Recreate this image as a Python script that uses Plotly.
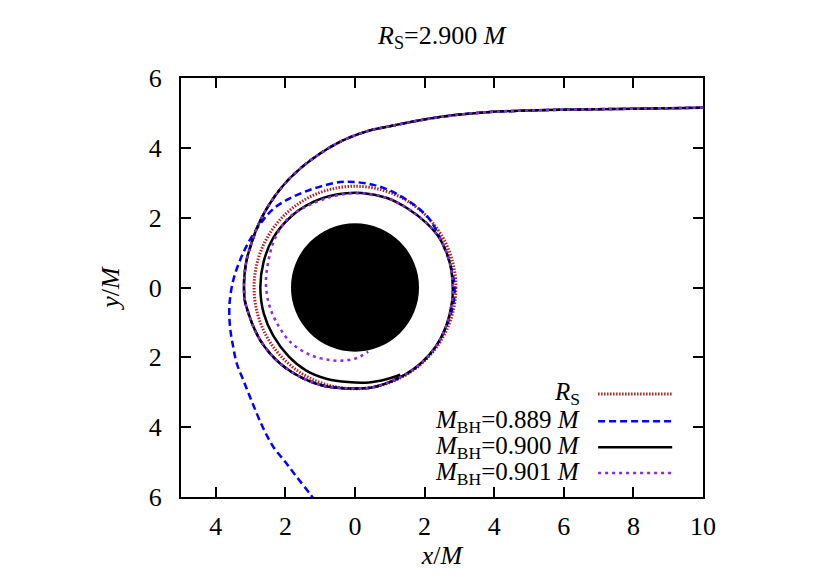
import plotly.graph_objects as go

# Schwarzschild radius and horizon disk (units of M)
r_s = 2.9
r_horizon = 1.84

# common incoming leg (units of M)
inflow_x = [10.0, 8.0, 6.5, 5.0, 3.8, 2.8, 1.87, 1.0, 0.43, -0.2, -0.53, -1.0, -1.5,
            -1.95, -2.3, -2.6, -2.82, -2.98, -3.1, -3.17, -3.19, -3.16, -3.06, -2.92,
            -2.73, -2.45, -2.16, -1.82, -1.49, -1.1, -0.72, -0.14]
inflow_y = [5.15, 5.12, 5.10, 5.07, 5.02, 4.93, 4.79, 4.62, 4.50, 4.28, 4.12, 3.84, 3.47,
            3.05, 2.62, 2.15, 1.70, 1.25, 0.85, 0.42, 0.0, -0.40, -0.74, -1.12,
            -1.50, -1.88, -2.17, -2.42, -2.60, -2.76, -2.85, -2.89]

# M_BH = 0.889 M : escapes towards the lower left
m889_x = [0.5, 1.2, 1.8, 2.3, 2.63, 2.82, 2.86, 2.78, 2.63, 2.4, 2.16, 1.85, 1.49, 1.0,
          0.53, 0.0, -0.43, -1.0, -1.5, -1.96, -2.35, -2.64, -3.0, -3.30, -3.50, -3.60,
          -3.61, -3.57, -3.50, -3.40, -3.21, -2.95, -2.65, -2.35, -2.0, -1.68, -1.3, -1.15]
m889_y = [-2.86, -2.62, -2.25, -1.72, -1.1, -0.5, 0.0, 0.5, 0.98, 1.5, 1.93, 2.25, 2.51, 2.78,
          2.94, 3.02, 3.02, 2.89, 2.72, 2.51, 2.25, 1.93, 1.40, 0.79, 0.20, -0.40,
          -0.87, -1.3, -1.7, -2.17, -2.65, -3.30, -4.0, -4.56, -5.0, -5.42, -5.9, -6.1]

# M_BH = 0.900 M : winds around near the photon orbit
m900_x = [0.5, 1.2, 1.8, 2.3, 2.62, 2.79, 2.80, 2.70, 2.45, 2.05, 1.5, 0.9, 0.2, -0.5,
          -1.2, -1.85, -2.35, -2.63, -2.72, -2.62, -2.35, -1.9, -1.4, -0.8, -0.2, 0.4,
          0.9, 1.3]
m900_y = [-2.86, -2.62, -2.25, -1.72, -1.1, -0.4, 0.2, 0.8, 1.38, 1.85, 2.27, 2.57, 2.71,
          2.67, 2.45, 2.02, 1.42, 0.72, 0.0, -0.75, -1.38, -1.98, -2.38, -2.62, -2.71,
          -2.72, -2.63, -2.50]

# M_BH = 0.901 M : spirals into the black hole
m901_x = [0.5, 1.2, 1.8, 2.3, 2.62, 2.79, 2.80, 2.70, 2.45, 2.05, 1.5, 0.9, 0.2, -0.5,
          -1.2, -1.87, -2.3, -2.5, -2.56, -2.48, -2.28, -1.87, -1.29, -0.72, -0.29,
          0.05, 0.38]
m901_y = [-2.86, -2.62, -2.25, -1.72, -1.1, -0.4, 0.2, 0.8, 1.38, 1.85, 2.27, 2.57, 2.70,
          2.64, 2.41, 2.03, 1.40, 0.70, 0.10, -0.45, -0.95, -1.55, -1.93, -2.08, -2.09,
          -2.02, -1.84]

x_ticks = [-4, -2, 0, 2, 4, 6, 8, 10]
x_tick_text = ["4", "2", "0", "2", "4", "6", "8", "10"]
y_ticks = [-6, -4, -2, 0, 2, 4, 6]
y_tick_text = ["6", "4", "2", "0", "2", "4", "6"]

labels = ["<i>R</i><sub>S</sub>",
          "<i>M</i><sub>BH</sub>=0.889 <i>M</i>",
          "<i>M</i><sub>BH</sub>=0.900 <i>M</i>",
          "<i>M</i><sub>BH</sub>=0.901 <i>M</i>"]

RED = "#b22222"
BLUE = "#0000ff"
BLACK = "#000000"
PURPLE = "#8a2be2"
FONT = "Liberation Serif"
FS = 26

fig = go.Figure()
fig.add_trace(go.Scatter(x=inflow_x + m889_x, y=inflow_y + m889_y, mode="lines",
                         line=dict(color=BLUE, width=2.5, dash="7px,4px", shape="spline")))
fig.add_trace(go.Scatter(x=inflow_x + m900_x, y=inflow_y + m900_y, mode="lines",
                         line=dict(color=BLACK, width=2.5, shape="spline")))
fig.add_trace(go.Scatter(x=inflow_x + m901_x, y=inflow_y + m901_y, mode="lines",
                         line=dict(color=PURPLE, width=2.5, dash="3px,4px", shape="spline")))

# horizon and R_S circle
fig.add_shape(type="circle", xref="x", yref="y", x0=-r_horizon, x1=r_horizon,
              y0=-r_horizon, y1=r_horizon, fillcolor="black", line=dict(width=0),
              layer="below")
fig.add_shape(type="circle", xref="x", yref="y", x0=-r_s, x1=r_s, y0=-r_s, y1=r_s,
              line=dict(color=RED, width=3, dash="1.5px,1.5px"), layer="below")

# gnuplot-style key: text on the left, sample on the right
key_y = [0.246, 0.181, 0.119, 0.057]
key_styles = [dict(color=RED, width=3, dash="1.5px,1.5px"),
              dict(color=BLUE, width=2.5, dash="7px,4px"),
              dict(color=BLACK, width=2.5),
              dict(color=PURPLE, width=2.5, dash="3px,4px")]
for lab, ky, st in zip(labels, key_y, key_styles):
    fig.add_annotation(x=0.768, y=ky, xref="paper", yref="paper", text=lab,
                       showarrow=False, xanchor="right", yanchor="middle",
                       font=dict(family=FONT, size=FS - 1, color="black"))
    fig.add_shape(type="line", xref="paper", yref="paper", x0=0.799, x1=0.941,
                  y0=ky, y1=ky, line=st)

fig.add_annotation(x=0.5, y=1.098, xref="paper", yref="paper",
                   text="<i>R</i><sub>S</sub>=2.900 <i>M</i>", showarrow=False,
                   yanchor="middle", font=dict(family=FONT, size=FS, color="black"))

axis_style = dict(showgrid=False, zeroline=False, showline=True, linecolor="black",
                  linewidth=2, mirror="ticks", ticks="inside", ticklen=10,
                  tickwidth=2, tickcolor="black", automargin=False,
                  tickfont=dict(family=FONT, size=FS, color="black"))

# the page body adds an 8px offset, so the figure is sized 8px smaller
fig.update_layout(
    width=822, height=574,
    margin=dict(l=173, r=127, t=70, b=85),
    plot_bgcolor="white", paper_bgcolor="white",
    showlegend=False,
    xaxis=dict(range=[-5, 10], tickvals=x_ticks, ticktext=x_tick_text,
               ticklabelstandoff=5,
               title=dict(text="<i>x</i>/<i>M</i>", standoff=6,
                          font=dict(family=FONT, size=FS, color="black")),
               **axis_style),
    yaxis=dict(range=[-6, 6], tickvals=y_ticks, ticktext=y_tick_text,
               ticklabelstandoff=12,
               title=dict(text="<i>y</i>/<i>M</i>", standoff=22,
                          font=dict(family=FONT, size=FS, color="black")),
               **axis_style),
)

fig.write_html("out.html")
